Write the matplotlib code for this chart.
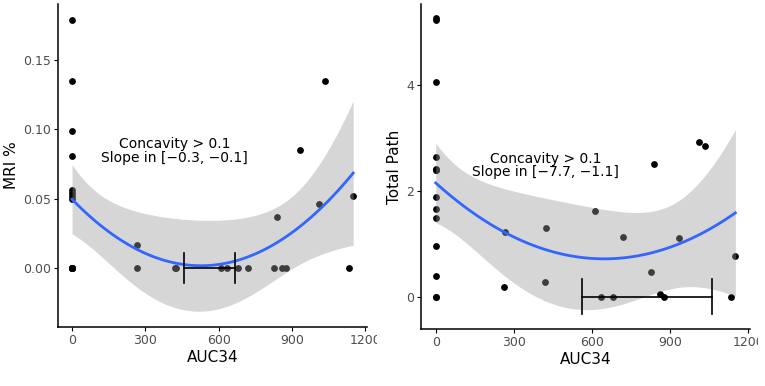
import numpy as np
import matplotlib
matplotlib.use("Agg")
import matplotlib.pyplot as plt
from matplotlib.transforms import Bbox, TransformedBbox

# --- dados ---
auc34 = [0] * 14 + [264, 266, 420, 424, 610, 636, 681, 719, 828, 838,
                    861, 875, 933, 1012, 1036, 1134, 1151]

mri = [0.179, 0.135, 0.099, 0.081, 0.056, 0.054, 0.052, 0.050, 0, 0, 0, 0, 0, 0,
       0, 0.0168, 0, 0, 0, 0, 0, 0, 0, 0.0367,
       0, 0, 0.085, 0.046, 0.135, 0, 0.052]

total_path = [5.26, 5.22, 4.06, 2.63, 2.41, 2.40, 2.39, 1.89, 1.65, 1.49, 0.96, 0.39, 0, 0,
              0.19, 1.22, 0.27, 1.29, 1.62, 0, 0, 1.13, 0.46, 2.5,
              0.05, 0, 1.1, 2.92, 2.85, 0, 0.76]

mri_bar = [460, 668]
path_bar = [560, 1060]

mri_text = "Concavity > 0.1\nSlope in [\u22120.3, \u22120.1]"
path_text = "Concavity > 0.1\nSlope in [\u22127.7, \u22121.1]"

T975 = 2.0484  # qt(0.975, df=28)


def quad_fit(x, y):
    x = np.asarray(x, float)
    y = np.asarray(y, float)
    X = np.column_stack([np.ones_like(x), x, x ** 2])
    beta, *_ = np.linalg.lstsq(X, y, rcond=None)
    resid = y - X @ beta
    sigma2 = resid @ resid / (len(x) - 3)
    cov = sigma2 * np.linalg.inv(X.T @ X)
    xg = np.linspace(x.min(), x.max(), 80)
    G = np.column_stack([np.ones_like(xg), xg, xg ** 2])
    fit = G @ beta
    se = np.sqrt(np.einsum("ij,jk,ik->i", G, cov, G))
    return xg, fit, fit - T975 * se, fit + T975 * se


def painel(ax, x, y, bar, bar_h, txt, txt_xy, ylabel, ylim, yticks, yfmt):
    ax.scatter(x, y, s=24, color="black", zorder=2, linewidths=0)
    xg, fit, lo, hi = quad_fit(x, y)
    ax.fill_between(xg, lo, hi, color="#999999", alpha=0.4, linewidth=0, zorder=3)
    ax.plot(xg, fit, color="#3366FF", lw=2, zorder=4)
    # barra horizontal
    ax.plot(bar, [0, 0], color="black", lw=1.2, zorder=5)
    for b in bar:
        ax.plot([b, b], [-bar_h / 2, bar_h / 2], color="black", lw=1.2, zorder=5)
    ax.text(txt_xy[0], txt_xy[1], txt, ha="center", va="center", fontsize=10,
            linespacing=0.95, zorder=6)

    ax.set_xlim(-57.5, 1207.5)
    ax.set_ylim(*ylim)
    ax.set_xticks([0, 300, 600, 900, 1200])
    ax.set_yticks(yticks)
    ax.set_yticklabels([yfmt.format(v) for v in yticks])
    ax.set_xlabel("AUC34", fontsize=11, labelpad=2)
    ax.set_ylabel(ylabel, fontsize=11, labelpad=3)
    for s in ["top", "right"]:
        ax.spines[s].set_visible(False)
    for s in ["left", "bottom"]:
        ax.spines[s].set_linewidth(1.1)
    ax.tick_params(labelsize=9, length=3, width=0.8, pad=2,
                   colors="black", labelcolor="#4d4d4d")


fig = plt.figure(figsize=(7.65, 3.86), dpi=100)
ax1 = fig.add_axes([0.0758, 0.1528, 0.4039, 0.8368])
ax2 = fig.add_axes([0.550, 0.1469, 0.4305, 0.8427])

painel(ax1, auc34, mri, mri_bar, 0.0216, mri_text, (420, 0.0843), "MRI %",
       (-0.0427, 0.1906), [0.00, 0.05, 0.10, 0.15], "{:.2f}")
painel(ax2, auc34, total_path, path_bar, 0.655, path_text, (422, 2.48), "Total Path",
       (-0.617, 5.53), [0, 2, 4], "{:g}")

# o "1200" aparece cortado nos dois painéis
for ax, xcut in [(ax1, 377), (ax2, 758)]:
    clip = TransformedBbox(Bbox([[0, 0], [xcut / 765, 1]]), fig.transFigure)
    for lbl in ax.get_xticklabels():
        lbl.set_clip_box(clip)
        lbl.set_clip_on(True)

fig.savefig("out.png", dpi=100)
